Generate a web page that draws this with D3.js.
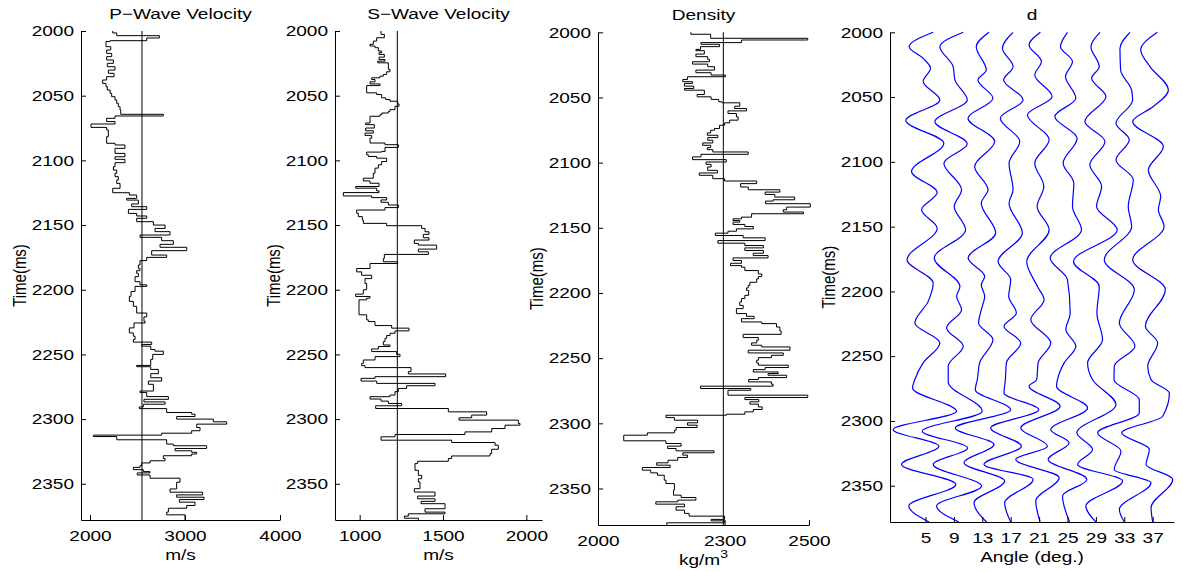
<!DOCTYPE html>
<html>
<head>
<meta charset="utf-8">
<script src="https://cdn.jsdelivr.net/npm/d3@7"></script>
<style>
  body { margin: 0; background: #fff; }
  text { font-family: "Liberation Sans", Arial, Helvetica, sans-serif; }
</style>
</head>
<body>
<div id="container"></div>
<script>
// ---- data ----

// time axis (ms)
const timeDomain = [2000, 2378];
const timeTicks = [2000, 2050, 2100, 2150, 2200, 2250, 2300, 2350];

// P-wave velocity log (m/s), blocky: value holds from time[i] until time[i+1]
const pTime = [2000, 2001.5, 2003.6, 2005.4, 2007.5, 2008.2, 2012.1, 2014.7, 2017.3, 2019.8,
  2022.4, 2025, 2027.6, 2030.2, 2032.7, 2035.3, 2037.9, 2040.5, 2043, 2045.6,
  2048.2, 2050.8, 2053.3, 2055.9, 2058.5, 2061, 2064.4, 2065.7, 2067.5, 2070,
  2071.9, 2074.5, 2076.5, 2081.7, 2086.8, 2088.1, 2090.7, 2094.6, 2097.2, 2099.2,
  2101.8, 2104.9, 2107.5, 2110, 2112.6, 2115.2, 2117.8, 2121.6, 2125, 2126.8,
  2129.4, 2130.7, 2133.7, 2135.8, 2137.9, 2141, 2143, 2144.8, 2147.4, 2150,
  2152.6, 2155.1, 2157.7, 2159.5, 2162.1, 2164.9, 2167.2, 2169.8, 2173.2, 2175,
  2177.5, 2180.9, 2183.5, 2185.3, 2187.3, 2189.9, 2193.8, 2196.2, 2197.4, 2201.3,
  2205.1, 2209, 2212.8, 2218, 2221, 2224.4, 2225.7, 2229.5, 2233.4, 2235.9,
  2238.5, 2240.5, 2242.3, 2243.6, 2246.2, 2247.5, 2250, 2253.9, 2258.5, 2259.5,
  2261.6, 2264.9, 2268, 2270.6, 2273.1, 2278.3, 2279.5, 2282.6, 2284.7, 2286.7,
  2288.5, 2290.6, 2291.9, 2294.9, 2296.2, 2298, 2300, 2302.1, 2303.9, 2306.5,
  2309, 2310.9, 2312.4, 2313.5, 2316, 2319.3, 2320.6, 2322.7, 2324.5, 2325.7,
  2327, 2328.3, 2330.4, 2332.2, 2333.9, 2336, 2337.3, 2339.1, 2340.6, 2341.6,
  2343.2, 2345.7, 2348.8, 2354, 2356.5, 2358.6, 2360.4, 2362.2, 2364.2, 2366.8,
  2368.9, 2371.9, 2374];
const pVel = [2239, 2281, 2730, 2597, 2211, 2168, 2218, 2175, 2228, 2175,
  2246, 2182, 2263, 2193, 2253, 2175, 2133, 2168, 2182, 2211,
  2228, 2263, 2281, 2298, 2316, 2323, 2772, 2263, 2175, 2263,
  2010, 2175, 2193, 2175, 2263, 2368, 2263, 2368, 2263, 2368,
  2263, 2246, 2281, 2263, 2298, 2281, 2316, 2239, 2414, 2491,
  2386, 2509, 2439, 2597, 2404, 2491, 2597, 2491, 2667, 2790,
  2684, 2842, 2526, 2754, 2877, 2737, 3018, 2649, 2807, 2597,
  2526, 2509, 2526, 2491, 2509, 2474, 2526, 2597, 2474, 2432,
  2414, 2456, 2491, 2597, 2568, 2580, 2463, 2414, 2456, 2474,
  2456, 2649, 2544, 2639, 2684, 2772, 2660, 2639, 2491, 2639,
  2719, 2639, 2754, 2614, 2667, 2526, 2597, 2825, 2568, 2790,
  2561, 2519, 2807, 3070, 3105, 2912, 3298, 3439, 3123, 3158,
  3070, 2754, 2035, 2281, 2807, 2877, 3228, 2895, 3070, 3123,
  3070, 2772, 2790, 2632, 2544, 2526, 2456, 2561, 2632, 2498,
  2632, 2947, 2912, 2842, 3186, 2912, 3200, 2940, 3105, 3018,
  2825, 2807, 3000];
const pRef = 2547;
const pTicks = [2000, 3000, 4000];

// S-wave velocity log (m/s)
const sTime = [2000, 2002.6, 2005.2, 2007.8, 2010.3, 2011.6, 2012.9, 2015.5, 2016.8, 2018.1,
  2020.2, 2022, 2023.3, 2024.6, 2029.7, 2031.5, 2033.6, 2034.9, 2036.2, 2037.5,
  2039.3, 2040.9, 2042.2, 2047.8, 2049.1, 2051.7, 2053, 2054.3, 2056.4, 2058.2,
  2060.8, 2062.1, 2063.4, 2064.7, 2065.9, 2071.1, 2072.4, 2075, 2077.1, 2078.9,
  2080.7, 2082.8, 2086.6, 2087.9, 2090, 2093.1, 2093.6, 2095.7, 2097, 2098.3,
  2100.9, 2103.4, 2106, 2109.9, 2113.8, 2115.9, 2117.7, 2120.2, 2121.5, 2123.6,
  2124.9, 2127.5, 2128.8, 2130.6, 2132.4, 2134.5, 2136.5, 2138.4, 2140.9, 2143.5,
  2146.1, 2148.7, 2150.5, 2152.6, 2155.2, 2157.2, 2159.8, 2161.6, 2164.2, 2165.5,
  2168.6, 2170.7, 2172.7, 2175.8, 2178.4, 2179.7, 2183.6, 2186.2, 2188.8, 2191.4,
  2195.2, 2200, 2203.4, 2205.2, 2206.5, 2207.8, 2219.4, 2223.3, 2224.6, 2227.7,
  2229.7, 2231.8, 2233.6, 2235.4, 2237.5, 2240.1, 2242.7, 2243.9, 2245.8, 2247.8,
  2249.9, 2251.7, 2254.3, 2256.9, 2258.7, 2260.2, 2263.3, 2265.1, 2267.2, 2268.5,
  2270.6, 2272.4, 2274.2, 2276.3, 2278.8, 2281.4, 2282.7, 2284.5, 2286.1, 2287.9,
  2289.7, 2291.8, 2294.4, 2296.9, 2299, 2300.8, 2303.4, 2304.7, 2307.3, 2309.9,
  2311.9, 2313.7, 2316.3, 2318.1, 2320.2, 2323.3, 2326.7, 2328.5, 2330.5, 2332.6,
  2334.4, 2339.6, 2343.5, 2346.1, 2348.6, 2353.8, 2356.4, 2359.5, 2361.6, 2363.6,
  2365.4, 2369.3, 2371.9, 2373.2, 2375, 2376.6];
const sVel = [1128, 1148, 1102, 1082, 1062, 1092, 1112, 1132, 1116, 1148,
  1116, 1152, 1108, 1172, 1182, 1162, 1142, 1122, 1072, 1092,
  1062, 1122, 1042, 1102, 1132, 1156, 1182, 1228, 1236, 1212,
  1182, 1172, 1132, 1122, 1062, 1036, 1088, 1036, 1082, 1032,
  1072, 1062, 1152, 1232, 1152, 1132, 1042, 1052, 1102, 1162,
  1132, 1112, 1092, 1082, 1022, 1062, 1116, 976, 1102, 1116,
  902, 1072, 1162, 1128, 1172, 1232, 1152, 982, 992, 1016,
  1022, 1162, 1372, 1392, 1416, 1382, 1416, 1328, 1352, 1462,
  1352, 1412, 1148, 1142, 1228, 1062, 982, 1012, 1072, 1032,
  1042, 1022, 976, 1062, 1042, 996, 1042, 1052, 1092, 1192,
  1296, 1212, 1182, 1162, 1152, 1142, 1182, 1112, 1072, 1222,
  1242, 1092, 1022, 1012, 1032, 1308, 1292, 1516, 1092, 1008,
  1102, 1452, 1282, 1232, 1212, 1182, 1062, 1128, 1172, 1252,
  1096, 1532, 1762, 1672, 1596, 1952, 1962, 1872, 1792, 1632,
  1212, 1128, 1552, 1812, 1832, 1792, 1782, 1552, 1532, 1348,
  1332, 1352, 1372, 1352, 1362, 1328, 1452, 1348, 1452, 1368,
  1512, 1392, 1512, 1292, 1268, 1352];
const sRef = 1226;
const sTicks = [1000, 1500, 2000];

// density log (kg/m3)
const rTime = [2000, 2001.5, 2004.6, 2005.9, 2007.9, 2009.2, 2011, 2013.1, 2014.1, 2016.7,
  2018.7, 2020.8, 2022.6, 2024.4, 2026.4, 2029, 2031, 2032.8, 2034.1, 2036.2,
  2037.9, 2039.2, 2041.3, 2043.1, 2044.4, 2047.7, 2049.5, 2051.5, 2053.3, 2054.1,
  2056.7, 2058.5, 2060.3, 2062.3, 2064.9, 2067.4, 2069.5, 2071.3, 2073.8, 2075.1,
  2077.2, 2079, 2080.8, 2082.8, 2084.9, 2086.7, 2088.5, 2090, 2091.8, 2093.6,
  2095.6, 2097.7, 2099.5, 2101.3, 2103.3, 2105.9, 2107.9, 2109.7, 2112.3, 2114.1,
  2116.1, 2118.7, 2120.8, 2122.6, 2124.4, 2126.4, 2128.5, 2129.5, 2131.5, 2134.1,
  2136.1, 2137.9, 2139.2, 2141.8, 2143.1, 2144.4, 2145.6, 2147.4, 2149, 2150.8,
  2152.6, 2154.1, 2155.9, 2157.7, 2159.8, 2161.8, 2163.6, 2165.4, 2167.4, 2169.5,
  2171.3, 2173.1, 2175.1, 2177.2, 2179, 2180.2, 2182.8, 2185.4, 2187.4, 2189.2,
  2191.8, 2194.3, 2196.1, 2198, 2201.8, 2204.3, 2206.9, 2209.5, 2212, 2215.8,
  2217.9, 2219.7, 2222.2, 2223.5, 2226.1, 2229.1, 2231.7, 2234.2, 2236.3, 2238.3,
  2240.1, 2241.4, 2243.9, 2246, 2247.8, 2249.6, 2251.6, 2253.7, 2255.4, 2257.2,
  2258.8, 2260.6, 2261.8, 2263.1, 2264.9, 2266.4, 2268.2, 2270, 2271.5, 2273.3,
  2274.6, 2278.4, 2280.2, 2281.8, 2283.5, 2285.3, 2287.4, 2289.4, 2291.2, 2293,
  2293.8, 2295.6, 2297.6, 2299.6, 2301.4, 2303.2, 2305.3, 2307.3, 2309.1, 2313.4,
  2315.5, 2317.5, 2319.3, 2321.1, 2322.6, 2324.4, 2326.2, 2328.3, 2330.3, 2332.1,
  2333.9, 2335.9, 2338, 2339.8, 2343.6, 2346.2, 2351.3, 2355.1, 2356.9, 2358.9,
  2360.2, 2362, 2364, 2366.6, 2369.1, 2371.2, 2373.7, 2374.8, 2376.3];
const rDen = [2220, 2267, 2497, 2340, 2244, 2288, 2243, 2232, 2252, 2232,
  2260, 2264, 2224, 2260, 2276, 2232, 2268, 2302, 2212, 2201,
  2224, 2205, 2227, 2205, 2252, 2235, 2268, 2286, 2294, 2336,
  2324, 2352, 2308, 2328, 2332, 2312, 2300, 2288, 2276, 2267,
  2259, 2284, 2260, 2272, 2248, 2267, 2259, 2272, 2356, 2244,
  2224, 2304, 2256, 2268, 2260, 2283, 2240, 2272, 2300, 2376,
  2338, 2356, 2431, 2396, 2419, 2466, 2415, 2397, 2503, 2447,
  2439, 2487, 2364, 2340, 2320, 2336, 2320, 2348, 2368, 2328,
  2308, 2278, 2344, 2396, 2284, 2348, 2392, 2348, 2392, 2368,
  2403, 2320, 2340, 2314, 2340, 2348, 2380, 2388, 2380, 2376,
  2360, 2356, 2352, 2357, 2348, 2340, 2336, 2344, 2328, 2352,
  2370, 2340, 2388, 2423, 2431, 2434, 2344, 2380, 2376, 2364,
  2388, 2455, 2356, 2439, 2411, 2380, 2376, 2380, 2451, 2396,
  2368, 2427, 2403, 2447, 2380, 2357, 2411, 2415, 2243, 2362,
  2308, 2497, 2348, 2381, 2360, 2380, 2389, 2368, 2348, 2304,
  2161, 2181, 2236, 2212, 2235, 2185, 2181, 2117, 2061, 2161,
  2197, 2165, 2185, 2275, 2201, 2212, 2189, 2166, 2139, 2171,
  2105, 2125, 2141, 2157, 2161, 2181, 2179, 2197, 2232, 2189,
  2137, 2205, 2185, 2205, 2216, 2300, 2268, 2300, 2163];
const rRef = 2297;
const rTicks = [2000, 2300, 2500];

// angle gather d: trace centres (deg.) and wiggle [time, amplitude in deg.] picks
const dAngles = [5, 9, 13, 17, 21, 25, 29, 33, 37];
const trace05 = [[2000, 1.08], [2011.1, -2.3], [2020.1, -0.33], [2027.8, 0.7], [2038, -0.33], [2052.2, 2.02],
  [2068.1, -2.77], [2085.6, 2.58], [2107.5, -1.97], [2123.7, 1.64], [2137, -0.56], [2151.2, 1.64],
  [2175.6, -2.6], [2193.6, 1.08], [2207.7, 0.38], [2224.4, -1.5], [2239.8, 2.02], [2255.2, -0.33],
  [2268, -1.5], [2274.6, -1.83], [2292.6, 4.37], [2306.7, -4.55], [2319.5, 1.88], [2333.6, -3.38],
  [2349, 4.27], [2365.6, -2.35], [2378, 0.5]];
const trace09 = [[2000, 1.32], [2011.1, -1.97], [2026.5, -0.1], [2036.8, 0.14], [2052.2, 1.88], [2068.9, -2.68],
  [2086.1, 1.88], [2101, -1.41], [2121.6, 1.08], [2134.5, 0.05], [2152.5, 1.64], [2174.3, -2.77],
  [2196.2, 0.85], [2203.8, 0.38], [2214.1, 1.08], [2228.2, -1.03], [2242.3, 1.31], [2257.7, -0.8],
  [2270, -0.8], [2292.6, 3.99], [2307.9, -4.46], [2320.8, 1.92], [2333.6, -2.91], [2350.3, 3.9],
  [2365.6, -2.44], [2378, 0.7]];
const trace13 = [[2000, 0.94], [2011.1, -0.85], [2029.1, 0.56], [2036.8, -0.61], [2050.9, 1.5], [2066.3, -2.02],
  [2084.3, 1.74], [2103.6, -1.08], [2121.6, 0.8], [2131.9, -0.14], [2155, 1.88], [2174.3, -2],
  [2188.5, 0.33], [2194.9, -0.14], [2203.8, 0.33], [2214.1, -0.14], [2224.4, -0.52], [2237.2, 1.5],
  [2255.2, -0.38], [2268, -0.7], [2275.9, -0.99], [2291.3, 3.99], [2305.4, -3.8], [2318.2, 1.64],
  [2332.3, -2.58], [2346.4, 3.15], [2363.1, -1.17], [2378, 0.6]];
const trace17 = [[2000, 0.33], [2012.3, -1.17], [2026.5, 0.33], [2036.8, -0.99], [2052.2, 1.74], [2066.3, -1.46],
  [2084.3, 1.27], [2101, -0.23], [2121.6, 0.33], [2131.9, -0.23], [2155, 1.64], [2176.9, -1.78],
  [2191, 0], [2203.8, -0.28], [2216.7, 0.8], [2226.9, -0.94], [2239.8, 1.41], [2255.2, -0.61],
  [2268, -0.75], [2278.5, -0.94], [2291.3, 3.94], [2305.4, -2.82], [2319.5, 1.5], [2333.6, -3.76],
  [2345.1, 3.15], [2363.1, -0.85], [2378, 0]];
const trace21 = [[2000, 0.19], [2009.8, -1.41], [2022.6, 0.33], [2032.9, -0.61], [2049.6, 1.83], [2063.8, -1.64],
  [2083, 1.41], [2101, -0.61], [2119, 0.66], [2134.5, -0.28], [2152.5, 1.41], [2176.9, -1.74],
  [2196.2, -0.23], [2206.4, 0.7], [2221.8, -1.17], [2239.8, 1.64], [2255.2, -0.14], [2268, -0.33],
  [2273.3, -1.41], [2288.7, 2.96], [2305.4, -2.58], [2319.5, 1.17], [2329.7, -3.29], [2343.8, 2.82],
  [2361.8, -0.47], [2378, 0.14]];
const trace25 = [[2000, 0], [2011.1, -0.99], [2022.6, 0.7], [2034.2, -0.28], [2050.9, 1.17], [2065, -1.78],
  [2081.8, 1.36], [2101, -0.61], [2116.5, 0.89], [2134.5, 0.7], [2152.5, 1.97], [2174.3, -2.44],
  [2191, 0], [2216.7, 0.38], [2229.5, -0.23], [2242.3, 1.17], [2255.2, -0.47], [2268, -1.41],
  [2273.3, -1.55], [2290, 2.82], [2306.7, -2.35], [2316.9, 0.23], [2329.7, -2.72], [2345.1, 2.72],
  [2357.9, -0.7], [2378, 0.3]];
const trace29 = [[2000, 0.56], [2011.1, -0.7], [2026.5, 0.47], [2035.5, -0.61], [2049.6, 1.41], [2068.9, -1.55],
  [2084.3, 1.27], [2102.3, -0.85], [2119, 0.8], [2134.5, 0.09], [2152.5, 3], [2176.9, -3.15],
  [2196.2, 0.47], [2216.7, 0.14], [2237.2, 0.94], [2255.2, -1.17], [2268.2, -0.47], [2287.4, 2.82],
  [2309.2, -2.68], [2322, -0.47], [2333.6, -2.58], [2346.4, 3.76], [2365.6, -1.41], [2378, 0]];
const trace33 = [[2000, 0.8], [2012.3, -0.61], [2029.1, -0.52], [2044.5, 1.03], [2052.2, 1.17], [2070.2, -1.17],
  [2083, 0.7], [2098.5, -1.17], [2113.9, 1.27], [2134.5, 0.56], [2149.9, 1.03], [2175.6, -2.82],
  [2198.7, 1.41], [2224.4, -0.7], [2242.3, 1.5], [2257.7, -1.41], [2268.2, -1.45], [2283.6, 2.11],
  [2293.8, 2.11], [2309.2, -3.76], [2323.3, -0.47], [2337.4, -1.41], [2347.7, 3.76], [2368.2, -0.7],
  [2378, 0]];
const trace37 = [[2000, 0.66], [2013.6, -1.69], [2026.5, -0.38], [2044.5, 2.21], [2057.3, 0.09], [2068.9, -2.82],
  [2088.2, 1.5], [2106.2, -0.61], [2126.8, 1.13], [2137, 0.8], [2149.9, 1.6], [2175.6, -2.82],
  [2198.7, 1.78], [2226.9, -1.03], [2239.8, 0.7], [2257.7, -0.7], [2268.2, -0.23], [2278.5, 2.35],
  [2296.4, 1.41], [2309.2, -4.37], [2322, -0.47], [2333.6, -0.94], [2345.1, 2.82], [2366.9, -0.23],
  [2378, 0]];
const dTraces = [trace05, trace09, trace13, trace17, trace21, trace25, trace29, trace33, trace37];
const dDomain = [0, 40];

// ---- drawing ----
const width = 1183;
const height = 572;
const SX = 1.27;   // the source figure was stretched sideways, glyphs included
const FONT = 15;

const svg = d3.select("#container").append("svg")
    .attr("width", width)
    .attr("height", height);

function label(g, x, y, txt, rotate) {
    return g.append("text")
        .attr("transform", `translate(${x},${y}) scale(${SX},1)` + (rotate ? " rotate(-90)" : ""))
        .attr("text-anchor", "middle")
        .attr("font-size", FONT)
        .attr("fill", "#000")
        .text(txt);
}

function drawAxes(g, box, x, y, xTicks, title, xlabel) {
    const ax = g.append("g")
        .attr("transform", `translate(0,${box.bottom})`)
        .call(d3.axisBottom(x).tickValues(xTicks).tickFormat(d3.format("d"))
            .tickSize(-5).tickSizeOuter(0).tickPadding(10));
    const ay = g.append("g")
        .attr("transform", `translate(${box.left},0)`)
        .call(d3.axisLeft(y).tickValues(timeTicks).tickFormat(d3.format("d"))
            .tickSize(-5).tickSizeOuter(0).tickPadding(7));

    for (const a of [ax, ay]) {
        a.attr("font-size", FONT).attr("font-family", null);
        a.selectAll("path, line").attr("stroke", "#000");
        a.selectAll("text").attr("fill", "#000");
    }
    ax.selectAll("text").attr("transform", `scale(${SX},1)`);
    ay.selectAll("text").attr("x", -7 / SX).attr("transform", `scale(${SX},1)`);

    const cx = (box.left + box.right) / 2;
    label(g, cx, box.top - 12.5, title);
    const xl = label(g, cx, box.bottom + 39.5, xlabel);
    label(g, box.left - 55, (box.top + box.bottom) / 2, "Time(ms)", true);
    return xl;
}

function drawLog(box, domain, times, vals, ref, xTicks, title, xlabel) {
    const g = svg.append("g");
    const x = d3.scaleLinear().domain(domain).range([box.left, box.right]);
    const y = d3.scaleLinear().domain(timeDomain).range([box.top, box.bottom]);

    // background reference line
    g.append("line")
        .attr("x1", x(ref)).attr("x2", x(ref))
        .attr("y1", box.top).attr("y2", box.bottom)
        .attr("stroke", "#000").attr("stroke-width", 1);

    const pts = times.map((t, i) => [vals[i], t]);
    pts.push([vals[vals.length - 1], timeDomain[1]]);

    g.append("path")
        .datum(pts)
        .attr("fill", "none")
        .attr("stroke", "#000")
        .attr("stroke-width", 1)
        .attr("d", d3.line().x(d => x(d[0])).y(d => y(d[1])).curve(d3.curveStepBefore));

    return drawAxes(g, box, x, y, xTicks, title, xlabel);
}

drawLog({ left: 81, right: 280, top: 31, bottom: 520 }, [1905, 4000],
    pTime, pVel, pRef, pTicks, "P\u2212Wave Velocity", "m/s");

drawLog({ left: 335, right: 542, top: 31, bottom: 520 }, [852, 2094],
    sTime, sVel, sRef, sTicks, "S\u2212Wave Velocity", "m/s");

const kg = drawLog({ left: 598, right: 809, top: 32.3, bottom: 525 }, [2000, 2500],
    rTime, rDen, rRef, rTicks, "Density", "");
kg.append("tspan").text("kg/m");
kg.append("tspan").attr("dy", -7).attr("font-size", 11).text("3");

// wiggle panel
{
    const box = { left: 890, right: 1174, top: 32.3, bottom: 522 };
    const g = svg.append("g");
    const x = d3.scaleLinear().domain(dDomain).range([box.left, box.right]);
    const y = d3.scaleLinear().domain(timeDomain).range([box.top, box.bottom]);

    dTraces.forEach((tr, i) => {
        const c = dAngles[i];
        g.append("path")
            .datum(tr)
            .attr("fill", "none")
            .attr("stroke", "#0000ff")
            .attr("stroke-width", 1.2)
            .attr("d", d3.line().x(d => x(c + d[1])).y(d => y(d[0])).curve(d3.curveMonotoneY));
    });

    drawAxes(g, box, x, y, dAngles, "d", "Angle (deg.)");
}
</script>
</body>
</html>
